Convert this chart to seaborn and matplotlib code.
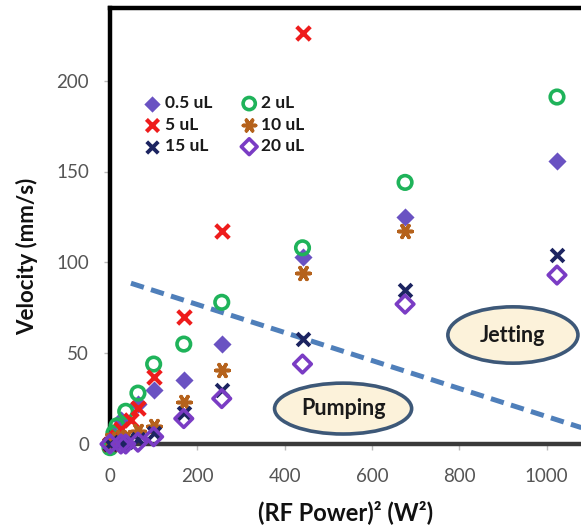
import matplotlib
matplotlib.use("Agg")
import matplotlib.pyplot as plt
from matplotlib.patches import Ellipse
import seaborn as sns
import pandas as pd

# ---- data (x = (RF Power)^2 in W^2, y = velocity in mm/s) ----
x_05 = [0, 9, 25, 64, 100, 169, 256, 441, 676, 1024]
v_05 = [0, 5, 13, 22, 30, 35, 55, 103, 125, 156]

x_2 = [0, 9, 16, 36, 64, 100, 169, 256, 441, 676, 1024]
v_2 = [-2, 6, 10, 18, 28, 44, 55, 78, 108, 144, 191]

x_5 = [0, 9, 16, 25, 49, 64, 100, 169, 256, 441]
v_5 = [0, 2, 4, 8, 13, 20, 37, 70, 117, 226]

x_10 = [0, 16, 25, 36, 64, 100, 169, 256, 441, 676]
v_10 = [2, 3, 4, 4, 7, 10, 23, 41, 94, 117]

x_15 = [0, 25, 36, 64, 100, 169, 256, 441, 676, 1024]
v_15 = [0, 1, 1, 3, 6, 17, 30, 58, 85, 104]

x_20 = [0, 25, 36, 64, 100, 169, 256, 441, 676, 1024]
v_20 = [0, 0, 0, 1, 4, 14, 25, 44, 77, 93]

boundary_x = [48, 1080]
boundary_y = [88.5, 9]

labels = ["0.5 uL", "2 uL", "5 uL", "10 uL", "15 uL", "20 uL"]
x_ticks = [0, 200, 400, 600, 800, 1000]
y_ticks = [0, 50, 100, 150, 200]

regions = ["Pumping", "Jetting"]
region_x = [534, 923]
region_y = [19.5, 60]
region_w = [314, 298]
region_h = [28, 31]

# ---- styling ----
sns.set_theme(style="white")
plt.rcParams["font.family"] = ["Lato", "DejaVu Sans"]

fig = plt.figure(figsize=(5.81, 5.31), dpi=100)
ax = fig.add_axes([110 / 581, 1 - 444 / 531, 1 - 110 / 581, (444 - 8) / 531])

series = [
    (x_05, v_05, labels[0], dict(marker="D", color="#6a52c2", s=85, linewidth=0)),
    (x_2, v_2, labels[1], dict(marker="o", facecolor="none", edgecolor="#1fb35a", s=95, linewidth=2.6)),
    (x_5, v_5, labels[2], dict(marker="x", color="#ee1c1c", s=95, linewidth=3.0)),
    (x_10, v_10, labels[3], dict(marker=(6, 2, 90), color="#b5621c", s=95, linewidth=2.6)),
    (x_15, v_15, labels[4], dict(marker="x", color="#1c2461", s=85, linewidth=2.8)),
    (x_20, v_20, labels[5], dict(marker="D", facecolor="none", edgecolor="#7a3cc4", s=80, linewidth=2.6)),
]

for xs, vs, lab, kw in series:
    df = pd.DataFrame({"x": xs, "v": vs})
    sns.scatterplot(data=df, x="x", y="v", ax=ax, label=lab, clip_on=False, zorder=3, **kw)

# boundary line
bdf = pd.DataFrame({"x": boundary_x, "v": boundary_y})
sns.lineplot(data=bdf, x="x", y="v", ax=ax, color="#4f7fba", linewidth=3.6,
             dashes=False, legend=False, zorder=2).lines[-1].set_dashes((2.7, 1.5))

# region ellipses
for name, cx, cy, w, h in zip(regions, region_x, region_y, region_w, region_h):
    ax.add_patch(Ellipse((cx, cy), w, h, facecolor="#fcf2da", edgecolor="#3d5878",
                         linewidth=2.6, zorder=4))
    ax.text(cx, cy, name, ha="center", va="center", fontsize=15.5,
            fontweight="bold", color="#1a1a1a", zorder=5)

ax.set_xlim(0, 1079)
ax.set_ylim(0, 240)
ax.set_xticks(x_ticks)
ax.set_yticks(y_ticks)

for side in ["left", "top"]:
    ax.spines[side].set_visible(True)
    ax.spines[side].set_color("black")
    ax.spines[side].set_linewidth(3.2)
ax.spines["bottom"].set_color("#3a3a3a")
ax.spines["bottom"].set_linewidth(3.2)
ax.spines["right"].set_visible(False)

ax.tick_params(axis="both", which="major", direction="out", length=4, width=1,
               color="#bbbbbb", labelcolor="#555555", labelsize=13.5)
ax.tick_params(axis="x", pad=13, bottom=True)
ax.tick_params(axis="y", pad=11, left=True)

ax.set_xlabel("(RF Power)² (W²)", fontsize=17, fontweight="bold", color="#111111")
ax.set_ylabel("Velocity (mm/s)", fontsize=16, fontweight="bold", color="#111111")
ax.xaxis.set_label_coords(0.5, -0.128)
ax.yaxis.set_label_coords(-0.153, 0.43)

# legend: row-wise order in two columns
h, l = ax.get_legend_handles_labels()
order = [0, 2, 4, 1, 3, 5]
leg = ax.legend([h[i] for i in order], [l[i] for i in order], ncol=2, frameon=False,
                loc="upper left", bbox_to_anchor=(0.042, 0.836),
                prop={"weight": "bold", "size": 12.5}, handlelength=0.8,
                handletextpad=0.3, columnspacing=1.75, labelspacing=0.32,
                markerscale=0.9)
for t in leg.get_texts():
    t.set_color("#1a1a1a")

fig.savefig("out.png", dpi=100)
